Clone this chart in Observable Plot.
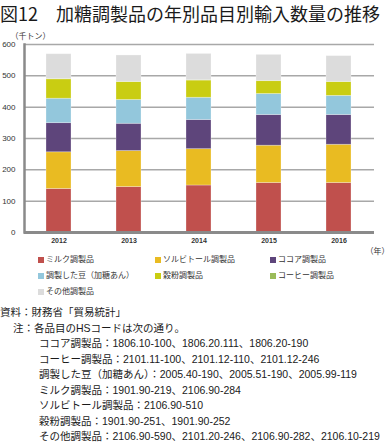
<!DOCTYPE html>
<html>
<head>
<meta charset="utf-8">
<script src="https://cdn.jsdelivr.net/npm/d3@7"></script>
<script src="https://cdn.jsdelivr.net/npm/@observablehq/plot@0.6"></script>
<style>
  html, body { margin: 0; padding: 0; background: #fff; }
  body { width: 389px; height: 442px; position: relative; overflow: hidden;
         font-family: "Liberation Sans", "Noto Sans CJK JP", sans-serif; color: #1a1a1a; }
  #title { position: absolute; left: 0; top: 0; font-size: 18px; line-height: normal;
           font-family: "Noto Sans CJK JP", sans-serif; white-space: nowrap; }
  #chart { position: absolute; left: 0; top: 28px; }
  #legend { position: absolute; left: 38px; top: 251px; display: grid;
            grid-template-columns: 117px 115px 100px; font-size: 8px; line-height: 16px;
            font-family: "Noto Sans CJK JP", sans-serif; color: #333; }
  #legend span.sw { display: inline-block; width: 6px; height: 6px; margin-right: 2px; vertical-align: -0.5px; }
  #notes { position: absolute; left: 0; top: 305px; font-size: 10.5px; line-height: 15.5px; white-space: nowrap; }
  #notes div.i1 { padding-left: 13px; }
  #notes div.i2 { padding-left: 39px; }
</style>
</head>
<body>
<div id="title">図12　加糖調製品の年別品目別輸入数量の推移</div>
<div id="chart"></div>
<div id="legend"></div>
<div id="notes"></div>
<script>
const years = ["2012", "2013", "2014", "2015", "2016"];
const categories = ["ミルク調製品", "ソルビトール調製品", "ココア調製品", "調製した豆（加糖あん）", "穀粉調製品", "コーヒー調製品", "その他調製品"];
const colors = ["#c0504d", "#e9bb22", "#5e457b", "#93c7dc", "#c9cd12", "#9bbb59", "#dcdcdc"];
// thousand tons
const milk     = [139, 145, 150, 158, 158];
const sorbitol = [117, 115, 116, 119, 122];
const cocoa    = [93, 87, 93, 98, 95];
const beans    = [78, 76, 71, 67, 61];
const grain    = [62, 57, 55, 41, 44];
const coffee   = [1, 1, 1, 1, 1];
const other    = [79, 84, 84, 83, 82];
const yTicks = [0, 100, 200, 300, 400, 500, 600];
const legendLabels = ["ミルク調製品", "ソルビトール調製品", "ココア調製品", "調製した豆（加糖あん）", "穀粉調製品", "コーヒー調製品", "その他調製品"];
const notes = [
  "資料：財務省「貿易統計」",
  "注：各品目のHSコードは次の通り。",
  "ココア調製品：1806.10-100、1806.20.111、1806.20-190",
  "コーヒー調製品：2101.11-100、2101.12-110、2101.12-246",
  "調製した豆（加糖あん）：2005.40-190、2005.51-190、2005.99-119",
  "ミルク調製品：1901.90-219、2106.90-284",
  "ソルビトール調製品：2106.90-510",
  "穀粉調製品：1901.90-251、1901.90-252",
  "その他調製品：2106.90-590、2101.20-246、2106.90-282、2106.10-219"
];

const series = [milk, sorbitol, cocoa, beans, grain, coffee, other];
const data = [];
categories.forEach((c, i) => years.forEach((y, j) => data.push({year: y, cat: c, value: series[i][j]})));

const marks = [
  Plot.gridY(yTicks.slice(1), {stroke: "#a8a8a8", strokeWidth: 1.5, strokeOpacity: 1}),
  Plot.barY(data, {x: "year", y: "value", fill: "cat", order: categories, stroke: "#ffffff", strokeOpacity: 0.35, strokeWidth: 0.8}),
  Plot.ruleY([0], {stroke: "#8a8a8a", strokeWidth: 3}),
  Plot.axisY({ticks: yTicks, tickSize: 0, tickPadding: 9, fontSize: 8, label: null}),
  Plot.axisX({tickSize: 0, tickPadding: 6, fontSize: 7, fontWeight: "bold", label: null}),
  Plot.text(["（千トン）"], {frameAnchor: "top-left", dx: -14, dy: -11, textAnchor: "start", fontSize: 8, fill: "#333"}),
  Plot.text(["（年）"], {frameAnchor: "bottom-right", dx: 15, dy: 21, textAnchor: "end", fontSize: 8, fill: "#333"})
];
try {
  marks.splice(3, 0, Plot.frame({anchor: "left", stroke: "#8a8a8a", strokeWidth: 2.5}));
} catch (e) {}

const chart = Plot.plot({
  width: 389,
  height: 230,
  marginTop: 16,
  marginBottom: 26,
  marginLeft: 24,
  marginRight: 15,
  style: {fontFamily: "'Liberation Sans', 'Noto Sans CJK JP', sans-serif", color: "#333", background: "transparent"},
  x: {type: "band", domain: years, paddingInner: 0.64, paddingOuter: 0.32},
  y: {domain: [0, 600]},
  color: {domain: categories, range: colors},
  marks
});
document.getElementById("chart").appendChild(chart);

const leg = document.getElementById("legend");
categories.forEach((c, i) => {
  const d = document.createElement("div");
  const sw = document.createElement("span");
  sw.className = "sw";
  sw.style.background = colors[i];
  d.appendChild(sw);
  d.appendChild(document.createTextNode(legendLabels[i]));
  leg.appendChild(d);
});

const nt = document.getElementById("notes");
notes.forEach((t, i) => {
  const d = document.createElement("div");
  d.className = i === 0 ? "" : (i === 1 ? "i1" : "i2");
  d.textContent = t;
  nt.appendChild(d);
});
</script>
</body>
</html>
